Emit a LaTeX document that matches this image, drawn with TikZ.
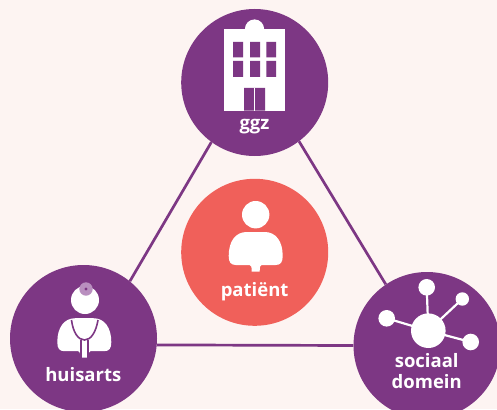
\documentclass[tikz,border=0pt]{standalone}
\usepackage{fontspec}
\setmainfont{Open Sans}
\definecolor{bgc}{HTML}{FDF4F2}
\definecolor{purp}{HTML}{7D3784}
\definecolor{coral}{HTML}{F0605A}
\definecolor{mirror}{HTML}{B98FBF}
\tikzset{
  hub/.style={circle,fill=#1,minimum size=147pt,inner sep=0pt,draw=none},
  link/.style={draw=purp,line width=2.7pt},
  lab/.style={text=white,font=\fontsize{18.5}{22}\selectfont\bfseries,anchor=base,inner sep=0pt},
  wire/.style={draw=white,line width=2.2pt},
  steth/.style={draw=purp,line width=1.6pt,line join=round}
}
\newcommand{\personbody}[2]{% x, top y
  \fill[white,shift={(#1,#2)}] (-9,0) -- (9,0)
    .. controls (20,0) and (27,9) .. (27,24)
    .. controls (27,30) and (25,33) .. (20,33) -- (6,33)
    .. controls (4.5,33) and (4,35) .. (4,39.5) -- (-4,39.5)
    .. controls (-4,35) and (-4.5,33) .. (-6,33) -- (-20,33)
    .. controls (-25,33) and (-27,30) .. (-27,24)
    .. controls (-27,9) and (-20,0) .. (-9,0) -- cycle;}
\begin{document}
\begin{tikzpicture}[x=1pt,y=-1pt]
\useasboundingbox (0,0) rectangle (497,409);
\fill[bgc] (0,0) rectangle (497,409);
\node[hub=purp] (ggz) at (254.7,82.5) {};
\node[hub=purp] (huis) at (83.5,338.5) {};
\node[hub=purp] (soc) at (427,345.5) {};
\node[hub=coral] (pat) at (254.7,252.3) {};
\draw[link] (ggz.234.4) -- (huis.51.5);
\draw[link] (ggz.307) -- (soc.124.7);
\draw[link] (huis.-5.45) -- (soc.west);
% building
\fill[white] (254.5,29) circle[radius=9.6];
\fill[white] (224,29) rectangle (285,110.7);
\fill[purp]
  (233,42) rectangle (243,57.3) (250,42) rectangle (260,57.3) (266.3,42) rectangle (276,57.3)
  (233,61) rectangle (243,77) (250,61) rectangle (260,77) (266.3,61) rectangle (276,77)
  (244,88) rectangle (265,110.7);
\fill[white] (253.9,88) rectangle (254.9,110.7);
\node[lab] (ggzt) at (254.5,129) {ggz};
% huisarts
\fill[white] (85,300) circle[radius=14];
\fill[mirror] (86,289) circle[radius=6.7];
\fill[purp] (86,289) circle[radius=1.6];
\personbody{84.3}{318.2}
\draw[steth] (71.5,320) .. controls (73,332) and (78,340) .. (84.5,340)
  .. controls (91,340) and (96,332) .. (98,320);
\draw[steth] (81,339.5) -- (81,357.7) (88,339.5) -- (88,357.7);
\node[lab] (huist) at (83.3,381.7) {huisarts};
% social
\draw[wire] (428.3,330.7) -- (426.7,287.3);
\draw[wire] (428.3,330.7) -- (462.3,299);
\draw[wire] (428.3,330.7) -- (386.7,318.3);
\draw[wire] (428.3,330.7) -- (470.7,342);
\fill[white] (428.3,330.7) circle[radius=17.3]
  (426.7,287.3) circle[radius=8.3] (462.3,299) circle[radius=6.7]
  (386.7,318.3) circle[radius=8.3] (470.7,342) circle[radius=8.3];
\node[lab] (soct) at (426.7,367.3) {sociaal};
\node[lab] (socb) at (426.7,388) {domein};
% patient
\fill[white] (255.7,214.7) circle[radius=13.7];
\personbody{255.7}{232}
\node[lab] (patt) at (254.6,296) {patiënt};
\end{tikzpicture}
\end{document}
